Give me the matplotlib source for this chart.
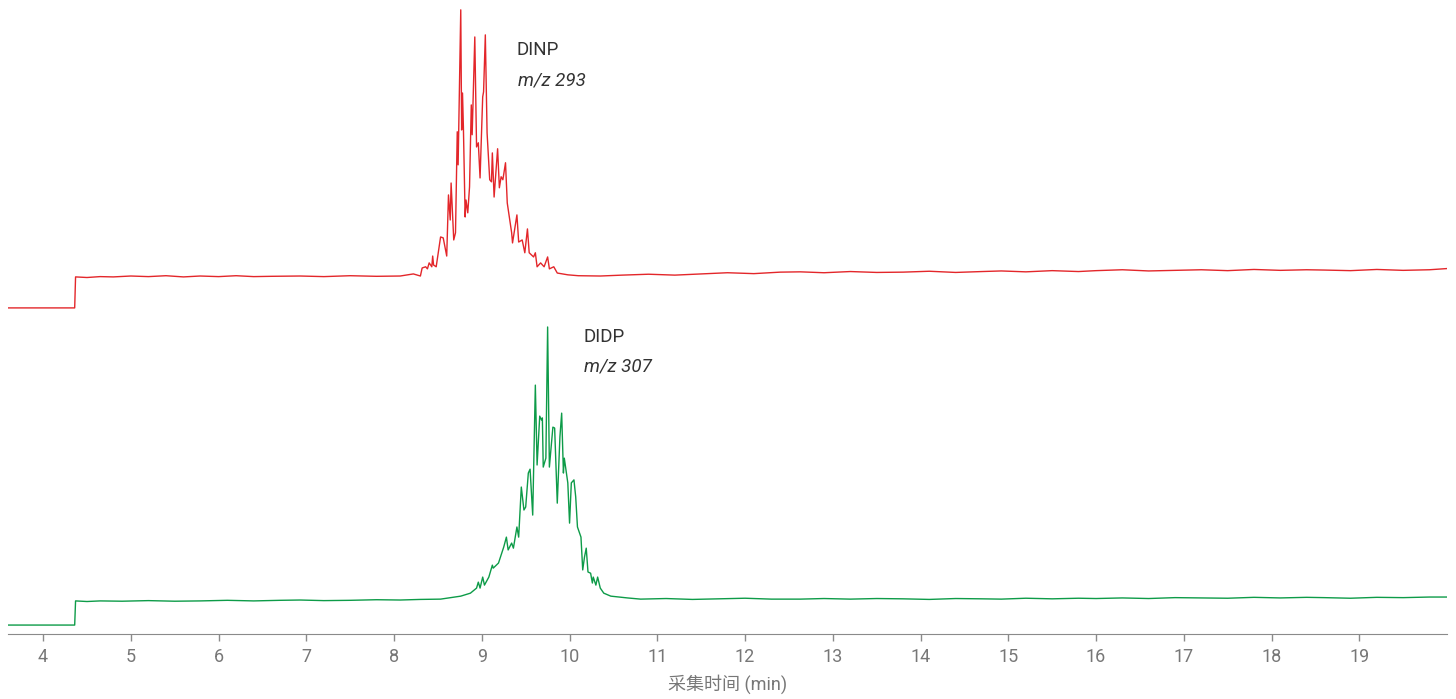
import matplotlib
matplotlib.use("Agg")
import matplotlib.pyplot as plt

plt.rcParams["font.family"] = ["Roboto", "Noto Sans CJK SC", "DejaVu Sans"]

# DINP, m/z 293 (relative abundance, %)
dinp_time = [3.60, 4.36, 4.37, 4.50, 4.65, 4.80, 5.00, 5.20, 5.40, 5.60, 5.79, 6.00,
             6.20, 6.40, 6.60, 6.93, 7.20, 7.50, 7.80, 8.07, 8.22, 8.30,
             8.32, 8.36, 8.38, 8.40, 8.43, 8.44, 8.45, 8.48, 8.53, 8.56, 8.60, 8.62,
             8.64, 8.65, 8.68, 8.70, 8.72, 8.73, 8.76, 8.77, 8.78, 8.79, 8.81, 8.82,
             8.84, 8.86, 8.88, 8.89, 8.92, 8.94, 8.96, 8.98, 9.01, 9.02, 9.04, 9.06,
             9.09, 9.11, 9.12, 9.14, 9.18, 9.20, 9.22, 9.24, 9.27, 9.29, 9.34, 9.35,
             9.40, 9.42, 9.46, 9.49, 9.52, 9.54, 9.59, 9.61, 9.63, 9.67, 9.71, 9.75,
             9.77, 9.82, 9.86, 9.98, 10.10, 10.35, 10.60, 10.90, 11.20, 11.50, 11.80,
             12.10, 12.40, 12.63, 12.90, 13.20, 13.50, 13.80, 14.10, 14.40, 14.70,
             14.92, 15.20, 15.50, 15.80, 16.00, 16.30, 16.60, 16.90, 17.20, 17.50,
             17.80, 18.10, 18.40, 18.60, 18.90, 19.20, 19.50, 19.80, 20.00]
dinp_abund = [0.0, 0.0, 10.4, 10.2, 10.5, 10.4, 10.7, 10.5, 10.8, 10.4, 10.7, 10.5,
              10.8, 10.5, 10.6, 10.7, 10.5, 10.8, 10.6, 10.7, 11.4, 10.7,
              13.4, 13.8, 13.1, 15.1, 13.8, 17.4, 14.4, 13.8, 23.8, 23.5, 17.4, 37.9,
              29.5, 41.9, 22.8, 25.2, 59.1, 48.0, 100.0, 59.7, 72.1, 60.7, 30.5, 36.2,
              31.9, 40.6, 68.1, 58.1, 90.9, 54.0, 55.4, 43.6, 70.8, 72.5, 91.6, 58.7,
              43.0, 42.3, 52.0, 37.2, 53.4, 40.3, 44.0, 43.0, 48.7, 35.2, 25.2, 21.8,
              31.2, 22.1, 22.8, 18.5, 26.5, 18.5, 17.1, 18.5, 13.8, 15.1, 13.8, 17.1,
              13.1, 13.8, 11.7, 11.1, 10.8, 10.7, 11.0, 11.3, 11.0, 11.4, 11.8,
              11.5, 12.0, 12.1, 11.8, 12.2, 11.9, 12.0, 12.3, 11.9, 12.2,
              12.4, 12.1, 12.5, 12.2, 12.5, 12.8, 12.4, 12.6, 12.8, 12.5,
              12.9, 12.6, 12.8, 12.7, 12.5, 12.9, 12.6, 12.8, 13.2]

# DIDP, m/z 307 (relative abundance, %)
didp_time = [3.60, 4.36, 4.37, 4.50, 4.65, 4.90, 5.20, 5.50, 5.79, 6.10, 6.40, 6.70,
             6.93, 7.20, 7.50, 7.80, 8.07, 8.30, 8.53, 8.76,
             8.87, 8.94, 8.96, 8.98, 9.01, 9.03, 9.08, 9.12, 9.13, 9.19, 9.25, 9.28,
             9.30, 9.34, 9.36, 9.40, 9.42, 9.45, 9.48, 9.50, 9.53, 9.55, 9.58, 9.61,
             9.63, 9.66, 9.68, 9.69, 9.70, 9.73, 9.75, 9.77, 9.81, 9.83, 9.86, 9.89,
             9.91, 9.93, 9.94, 9.98, 10.00, 10.02, 10.05, 10.07, 10.09, 10.13, 10.15,
             10.17, 10.19, 10.21, 10.24, 10.26, 10.27, 10.30, 10.32, 10.35, 10.39,
             10.47, 10.66, 10.81, 11.10, 11.40, 11.70, 12.00, 12.30, 12.63, 12.90,
             13.20, 13.50, 13.80, 14.10, 14.40, 14.70, 14.92, 15.20, 15.50, 15.80,
             16.00, 16.30, 16.60, 16.90, 17.20, 17.50, 17.80, 18.10, 18.40, 18.60,
             18.90, 19.20, 19.50, 19.80, 20.00]
didp_abund = [0.0, 0.0, 8.1, 7.9, 8.1, 8.0, 8.2, 8.0, 8.1, 8.3, 8.1, 8.3,
              8.4, 8.2, 8.3, 8.5, 8.4, 8.6, 8.7, 9.7,
              10.7, 12.4, 14.4, 12.4, 16.1, 13.4, 16.1, 20.1, 19.1, 20.8, 26.2, 29.5,
              25.2, 27.5, 25.8, 32.9, 29.5, 46.3, 38.6, 39.6, 51.0, 52.3, 36.9, 80.5,
              53.7, 70.1, 68.8, 69.5, 53.0, 56.0, 100.0, 53.0, 66.4, 66.1, 40.9, 63.1,
              71.1, 51.0, 56.0, 47.7, 34.2, 47.7, 48.7, 43.0, 32.9, 29.5, 18.5,
              22.8, 25.8, 17.8, 17.4, 14.1, 16.1, 13.4, 16.1, 12.4, 10.7,
              9.7, 9.1, 8.7, 8.9, 8.6, 8.8, 9.0, 8.7, 8.7, 8.9,
              8.7, 8.9, 8.8, 8.6, 8.9, 8.8, 8.7, 9.0, 8.8, 9.0,
              8.9, 9.1, 8.9, 9.2, 9.1, 9.0, 9.3, 9.1, 9.3, 9.2,
              9.0, 9.3, 9.2, 9.4, 9.4]

dinp_offset = 106.4
x_ticks = list(range(4, 20))

fig = plt.figure(figsize=(14.56, 6.99), dpi=100)
ax = fig.add_axes([8 / 1456, 65 / 699, 1439 / 1456, 634 / 699])

ax.plot(dinp_time, [v + dinp_offset for v in dinp_abund], color="#e3262a", lw=1.0)
ax.plot(didp_time, didp_abund, color="#0d9b48", lw=1.0)

ax.text(9.40, 192.8, "DINP", fontsize=13.5, color="#333333", va="center")
ax.text(9.41, 182.8, "m/z 293", fontsize=13.5, color="#333333", va="center", style="italic")
ax.text(10.16, 96.5, "DIDP", fontsize=13.5, color="#333333", va="center")
ax.text(10.17, 86.7, "m/z 307", fontsize=13.5, color="#333333", va="center", style="italic")

ax.set_xlim(3.6, 20.0)
ax.set_ylim(-3.0, 209.7)
ax.set_xticks(x_ticks)
ax.set_yticks([])
for side in ["top", "left", "right"]:
    ax.spines[side].set_visible(False)
ax.spines["bottom"].set_color("#8a8a8a")
ax.tick_params(axis="x", colors="#8a8a8a", labelcolor="#777777", labelsize=13,
               length=5, width=1, pad=5)
ax.set_xlabel("采集时间 (min)", fontsize=13, color="#777777", labelpad=6)

fig.savefig("out.png", dpi=100)
